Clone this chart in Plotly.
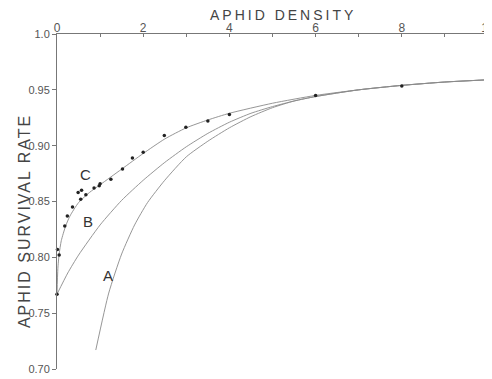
import plotly.graph_objects as go

# Observed data points
obs_x = [0.0, 0.01, 0.05, 0.18, 0.24, 0.36, 0.49, 0.55, 0.57, 0.67, 0.86, 0.98, 1.0,
         1.25, 1.52, 1.75, 2.0, 2.49, 2.99, 3.5, 4.0, 6.0, 8.0, 10.0]
obs_y = [0.767, 0.807, 0.802, 0.828, 0.837, 0.845, 0.858, 0.852, 0.860, 0.856, 0.862,
         0.864, 0.866, 0.870, 0.879, 0.889, 0.894, 0.909, 0.9165, 0.922, 0.928, 0.945,
         0.9534, 0.9588]

# Curve C
c_x = [0, 0.02, 0.05, 0.1, 0.2, 0.3, 0.5, 0.75, 1.0, 1.5, 2.0, 2.5, 3.0, 3.5, 4.0,
       5.0, 6.0, 7.0, 8.0, 9.0, 10.0]
c_y = [0.767, 0.790, 0.803, 0.815, 0.828, 0.837, 0.849, 0.858, 0.865, 0.879, 0.893,
       0.906, 0.916, 0.923, 0.929, 0.938, 0.945, 0.950, 0.954, 0.957, 0.959]

# Curve B
b_x = [0, 0.25, 0.5, 1.0, 1.5, 2.0, 2.5, 3.0, 3.5, 4.0, 4.5, 5.0, 5.5, 6, 7, 8, 9, 10]
b_y = [0.767, 0.786, 0.802, 0.829, 0.851, 0.869, 0.885, 0.899, 0.911, 0.921, 0.929,
       0.935, 0.940, 0.944, 0.950, 0.954, 0.957, 0.959]

# Curve A
a_x = [0.9, 1.2, 1.5, 1.8, 2.1, 2.5, 3.0, 3.5, 4.0, 4.5, 5.0, 5.5, 6, 7, 8, 9, 10]
a_y = [0.717, 0.768, 0.803, 0.829, 0.849, 0.869, 0.890, 0.904, 0.916, 0.926, 0.934,
       0.940, 0.944, 0.950, 0.954, 0.957, 0.959]

x_ticks = [0, 2, 4, 6, 8, 10]
x_tick_labels = ["0", "2", "4", "6", "8", "10"]
y_ticks = [0.70, 0.75, 0.80, 0.85, 0.90, 0.95, 1.0]
y_tick_labels = ["0.70", "0.75", "0.80", "0.85", "0.90", "0.95", "1.0"]

curve_labels = ["A", "B", "C"]
label_x = [1.19, 0.72, 0.65]
label_y = [0.784, 0.8317, 0.8746]

line_style = dict(color="#8a8a8a", width=0.9, shape="spline", smoothing=0.6)

fig = go.Figure()
for xs, ys in [(a_x, a_y), (b_x, b_y), (c_x, c_y)]:
    fig.add_trace(go.Scatter(x=xs, y=ys, mode="lines", line=line_style,
                             hoverinfo="skip", showlegend=False, cliponaxis=False))
fig.add_trace(go.Scatter(x=obs_x, y=obs_y, mode="markers", cliponaxis=False,
                         marker=dict(color="#222", size=3.5), showlegend=False))

for t, lx, ly in zip(curve_labels, label_x, label_y):
    fig.add_annotation(x=lx, y=ly, text=t, showarrow=False,
                       font=dict(family="Liberation Sans", size=15, color="#333"))

# Axis titles placed as annotations
fig.add_annotation(xref="paper", yref="paper", x=0.525, y=1.0, yshift=19,
                   yanchor="middle",
                   text='<span style="letter-spacing:3px">APHID DENSITY</span>',
                   showarrow=False,
                   font=dict(family="Liberation Sans", size=14, color="#444"))
fig.add_annotation(xref="paper", yref="paper", x=0.0, xshift=-43, y=0.44,
                   text='<span style="letter-spacing:2px">APHID SURVIVAL RATE</span>',
                   textangle=-90, showarrow=False,
                   font=dict(family="Liberation Sans", size=16, color="#444"))

# The page body adds an 8 px margin, so the figure is sized to fit the window after it.
fig.update_layout(
    width=484, height=371,
    margin=dict(l=49, r=4, t=26, b=10, autoexpand=False),
    plot_bgcolor="white", paper_bgcolor="white",
    font=dict(family="Liberation Sans", color="#444"),
    xaxis=dict(side="top", range=[0, 10], tickvals=x_ticks, ticktext=x_tick_labels,
               showgrid=False, zeroline=False, showline=True, linecolor="#777",
               linewidth=1, ticks="inside", ticklen=3, tickcolor="#777",
               tickfont=dict(size=12, color="#555"), automargin=False,
               ticklabelstandoff=-4, ticklabeloverflow="allow",
               minor=dict(dtick=1, ticks="inside", ticklen=3, tickcolor="#777")),
    yaxis=dict(range=[0.70, 1.0], tickvals=y_ticks, ticktext=y_tick_labels,
               showgrid=False, zeroline=False, showline=True, linecolor="#777",
               linewidth=1, ticks="outside", ticklen=4, tickcolor="#777",
               tickfont=dict(size=11, color="#555"), automargin=False),
)

fig.write_html("out.html")
